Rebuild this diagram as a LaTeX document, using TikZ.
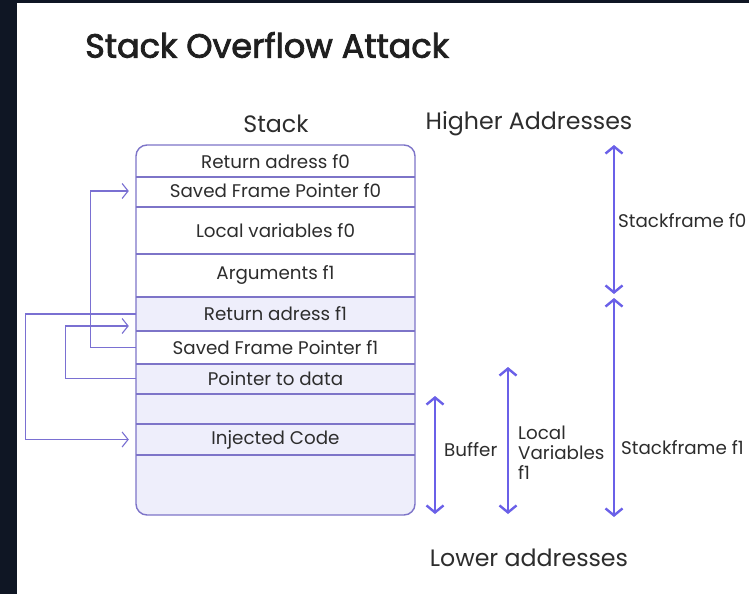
\documentclass[tikz,border=0pt]{standalone}
\usepackage{fontspec}
\setmainfont{Poppins}
\newcommand\heavytext[1]{\special{pdf:literal direct 2 Tr 0.8 w}#1\special{pdf:literal direct 0 Tr}}
\usetikzlibrary{arrows.meta,calc}
\definecolor{darkbg}{HTML}{0F1624}
\definecolor{boxline}{RGB}{125,116,200}
\definecolor{lav}{RGB}{238,238,251}
\definecolor{conncol}{RGB}{122,112,210}
\definecolor{arrcol}{RGB}{106,96,232}
\definecolor{txt}{RGB}{45,45,45}
\tikzset{
  rowtext/.style={inner sep=0pt, minimum width=279pt, text=txt, font=\fontsize{18.3}{20}\selectfont},
  conn/.style={draw=conncol, line width=1.1pt, -{Straight Barb[length=6pt,width=15pt]}},
  dbl/.style={draw=arrcol, line width=2.4pt, {Straight Barb[length=7pt,width=17pt]}-{Straight Barb[length=7pt,width=17pt]}},
  lbl/.style={inner sep=0pt, text=txt, font=\fontsize{18.3}{20}\selectfont},
  head/.style={inner sep=0pt, text=txt, font=\fontsize{23.7}{26}\selectfont},
}
\begin{document}
\begin{tikzpicture}[x=1pt,y=-1pt]
\useasboundingbox (0,0) rectangle (749,594);
\fill[white] (0,0) rectangle (749,594);
\fill[darkbg] (0,0) rectangle (17,594);
\fill[darkbg] (0,0) rectangle (749,3);

% title and headings
\node[inner sep=0pt, anchor=west, text=black!88, font=\fontsize{33.5}{36}\selectfont] (title) at (85,45) {\heavytext{Stack Overflow Attack}};
\node[head] (stacklbl) at (276,124) {Stack};
\node[head] (higher) at (529,124) {Higher Addresses};
\node[head] (lower) at (529,558) {Lower addresses};

% stack fills
\begin{scope}
\clip[rounded corners=11pt] (136,145) rectangle (415,515);
\fill[lav] (136,297) rectangle (415,331);
\fill[lav] (136,364) rectangle (415,515);
\end{scope}
\draw[boxline, line width=1.4pt, rounded corners=11pt] (136,145) rectangle (415,515);
\foreach \yy in {177,207,254,297,331,364,394,424,455}
  \draw[boxline, line width=1.2pt] (136,\yy) -- (415,\yy);

% rows
\node[rowtext, minimum height=32pt] (r1) at (275.5,162) {Return adress f0};
\node[rowtext, minimum height=30pt] (r2) at (275.5,191) {Saved Frame Pointer f0};
\node[rowtext, minimum height=47pt] (r3) at (275.5,230.5) {Local variables f0};
\node[rowtext, minimum height=43pt] (r4) at (275.5,274.5) {Arguments f1};
\node[rowtext, minimum height=34pt] (r5) at (275.5,314) {Return adress f1};
\node[rowtext, minimum height=33pt] (r6) at (275.5,347.5) {Saved Frame Pointer f1};
\node[rowtext, minimum height=30pt] (r7) at (275.5,378.5) {Pointer to data};
\node[rowtext, minimum height=30pt] (r8) at (275.5,409) {};
\node[rowtext, minimum height=31pt] (r9) at (275.5,439.5) {Injected Code};
\node[rowtext, minimum height=60pt] (r10) at (275.5,485) {};

% connectors
\draw[conn] (r5.west) -- ++(-110,0) |- ([xshift=-7pt]r9.west);
\draw[conn] (r6.west) -- ++(-45,0) |- ([xshift=-7pt]r2.west);
\draw[conn] (r7.west) -- ++(-70,0) |- ([xshift=-7pt,yshift=-12pt]r5.west);

% right arrows
\coordinate (sf0t) at (614,145);
\coordinate (sf0b) at (614,294);
\coordinate (sf1t) at (614,298);
\coordinate (sf1b) at (614,517);
\coordinate (buft) at (435,396);
\coordinate (bufb) at (435,514);
\coordinate (lvt) at (508,367);
\coordinate (lvb) at (508,514);
\draw[dbl] (sf0t) -- (sf0b);
\draw[dbl] (sf1t) -- (sf1b);
\draw[dbl] (buft) -- (bufb);
\draw[dbl] (lvt) -- (lvb);
\node[lbl, anchor=west] (lsf0) at (618,221) {Stackframe f0};
\node[lbl, anchor=west] (lsf1) at (621,448) {Stackframe f1};
\node[lbl, anchor=west] (lbuf) at (444,450) {Buffer};
\node[lbl, anchor=west, align=left] (llv) at (518,453) {Local\\Variables\\f1};
\end{tikzpicture}
\end{document}
